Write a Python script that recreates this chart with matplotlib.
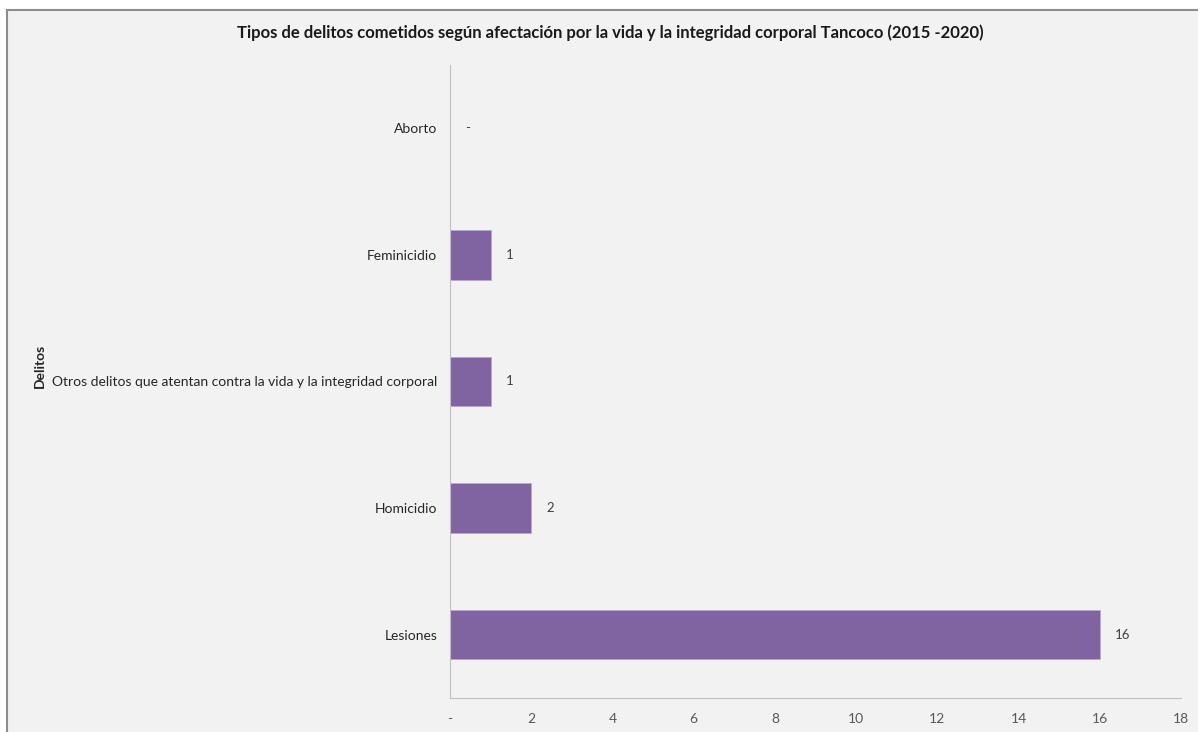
import matplotlib.pyplot as plt
from matplotlib.patches import Rectangle

categorias = ["Lesiones", "Homicidio",
              "Otros delitos que atentan contra la vida y la integridad corporal",
              "Feminicidio", "Aborto"]
valores = [16, 2, 1, 1, 0]
ticks_x = [0, 2, 4, 6, 8, 10, 12, 14, 16, 18]
etiquetas_x = ["-", "2", "4", "6", "8", "10", "12", "14", "16", "18"]

plt.rcParams['font.family'] = ['Lato', 'DejaVu Sans']

fig = plt.figure(figsize=(11.98, 7.32), dpi=100)
fig.patch.set_facecolor("white")

# marco gris del grafico
W, H = 1198, 732
marco = Rectangle((7 / W, -0.01), 1.0, 1 - 10 / H + 0.01, transform=fig.transFigure,
                  facecolor="#F2F2F2", edgecolor="#8C8C8C", linewidth=1.5, zorder=-1)
fig.patches.append(marco)

ax = fig.add_axes([450 / W, 1 - 698 / H, (1181 - 450) / W, (698 - 65) / H])
ax.set_facecolor("none")

ax.barh(categorias, valores, height=0.39, color="#8064A2",
        edgecolor="#B9A7D0", linewidth=0.6)

for i, v in enumerate(valores):
    txt = "-" if v == 0 else str(v)
    ax.annotate(txt, (v, i), xytext=(11, 0), textcoords="offset points",
                va="center", ha="left", fontsize=9.5, color="#404040")

ax.set_xlim(0, 18)
ax.set_ylim(-0.5, 4.5)
ax.set_xticks(ticks_x)
ax.set_xticklabels(etiquetas_x)
ax.tick_params(axis="both", length=0, labelsize=10, colors="#595959")
ax.tick_params(axis="y", colors="#262626", pad=9)
ax.tick_params(axis="x", pad=11)

for s in ["top", "right"]:
    ax.spines[s].set_visible(False)
for s in ["left", "bottom"]:
    ax.spines[s].set_color("#BFBFBF")

fig.text(40 / W, 0.5, "Delitos", rotation=90, fontsize=10, fontweight="bold",
         ha="center", va="center", color="#262626")

fig.text(610 / W, 1 - 33 / H,
         "Tipos de delitos cometidos según afectación por la vida y la integridad corporal Tancoco (2015 -2020)",
         fontsize=12, fontweight="bold", ha="center", va="center", color="#1a1a1a")

fig.savefig("out.png", dpi=100)
